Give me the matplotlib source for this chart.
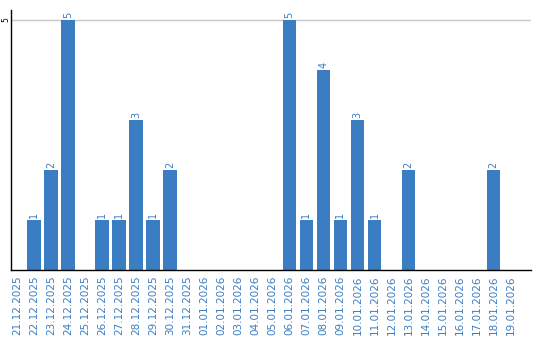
import matplotlib
matplotlib.use("Agg")
import matplotlib.pyplot as plt

dates = ["21.12.2025", "22.12.2025", "23.12.2025", "24.12.2025", "25.12.2025",
         "26.12.2025", "27.12.2025", "28.12.2025", "29.12.2025", "30.12.2025",
         "31.12.2025", "01.01.2026", "02.01.2026", "03.01.2026", "04.01.2026",
         "05.01.2026", "06.01.2026", "07.01.2026", "08.01.2026", "09.01.2026",
         "10.01.2026", "11.01.2026", "12.01.2026", "13.01.2026", "14.01.2026",
         "15.01.2026", "16.01.2026", "17.01.2026", "18.01.2026", "19.01.2026"]
values = [0, 1, 2, 5, 0, 1, 1, 3, 1, 2, 0, 0, 0, 0, 0, 0, 5, 1, 4, 1, 3, 1, 0, 2, 0, 0, 0, 0, 2, 0]

bar_color = "#3b7dc3"
text_color = "#3b7dc3"

fig = plt.figure(figsize=(5.4, 3.4), dpi=100)
ax = fig.add_axes([10.7/540, 1 - 270/340, 520.3/540, 260/340])

x = list(range(len(values)))
ax.bar(x, values, width=0.8, color=bar_color, zorder=2)
for xi, v in zip(x, values):
    if v > 0:
        ax.text(xi, v + 0.04, str(v), rotation=90, ha="center", va="bottom",
                fontsize=7, color=text_color, family="DejaVu Sans")

ax.set_xlim(-0.38, 30.2)
ax.set_ylim(0, 5.2)
ax.set_yticks([5])
ax.set_yticklabels(["5"], rotation=90, va="center", fontsize=5.5)
ax.yaxis.grid(True, color="#c8c8c8", linewidth=1, zorder=0)
ax.tick_params(axis="y", length=0, pad=0.5)
ax.set_xticks(x)
ax.set_xticklabels(dates, rotation=90, fontsize=7.5, color=text_color)
ax.tick_params(axis="x", length=0, pad=4)
for s in ["top", "right"]:
    ax.spines[s].set_visible(False)
ax.spines["left"].set_color("black")
ax.spines["bottom"].set_color("black")
ax.spines["left"].set_linewidth(1)
ax.spines["bottom"].set_linewidth(1)

fig.savefig("out.png", dpi=100)
